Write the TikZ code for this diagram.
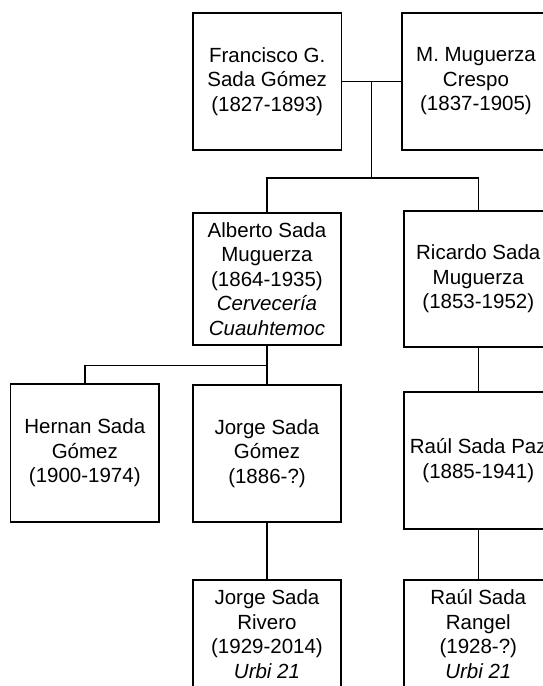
\documentclass[tikz,border=0pt]{standalone}
\usepackage{fontspec}
\setmainfont{Liberation Sans}
\usetikzlibrary{calc}
\begin{document}
\begin{tikzpicture}[x=1pt,y=-1pt,
  person/.style={draw, line width=1.7pt, minimum width=148.5pt, inner sep=0pt,
    align=center, font=\fontsize{20.5}{24.5}\selectfont},
  link/.style={line width=1.6pt}]
\useasboundingbox (0,0) rectangle (543,686);
\clip (0,0) rectangle (543,686);
\node[person, minimum height=137.3pt] (fr) at (267.2,81.3) {Francisco G.\\Sada Gómez\\(1827-1893)};
\node[person, minimum height=137.3pt] (mu) at (476,81.3) {M. Muguerza\\Crespo\\(1837-1905)};
\node[person, minimum height=132pt] (al) at (267,279) {Alberto Sada\\Muguerza\\(1864-1935)\\\textit{Cervecería}\\\textit{Cuauhtemoc}};
\node[person, minimum height=136pt] (ri) at (478.3,279) {Ricardo Sada\\Muguerza\\(1853-1952)};
\node[person, minimum height=138pt] (he) at (84.8,453) {Hernan Sada\\Gómez\\(1900-1974)};
\node[person, minimum height=137pt] (jo) at (267,453.5) {Jorge Sada\\Gómez\\(1886-?)};
\node[person, minimum height=137pt] (rp) at (478.3,460.5) {Raúl Sada Paz\\(1885-1941)};
\node[person, minimum height=108pt] (jr) at (267,634) {Jorge Sada\\Rivero\\(1929-2014)\\\textit{Urbi 21}};
\node[person, minimum height=108pt] (rr) at (478.3,634) {Raúl Sada\\Rangel\\(1928-?)\\\textit{Urbi 21}};
% connectors
\coordinate (j1) at ($(fr.east)!0.5!(mu.west)$);
\coordinate (bar1) at (j1 |- 0,178);
\coordinate (bar2) at (al.south |- 0,365.3);
\draw[link] (fr.east) -- (mu.west);
\draw[link] (j1) -- (bar1);
\draw[link] (bar1) -| (al.north);
\draw[link] (bar1) -| (ri.north);
\draw[link] (al.south) -- (jo.north);
\draw[link] (bar2) -| (he.north);
\draw[link] (ri.south) -- (rp.north);
\draw[link] (jo.south) -- (jr.north);
\draw[link] (rp.south) -- (rr.north);
\end{tikzpicture}
\end{document}
